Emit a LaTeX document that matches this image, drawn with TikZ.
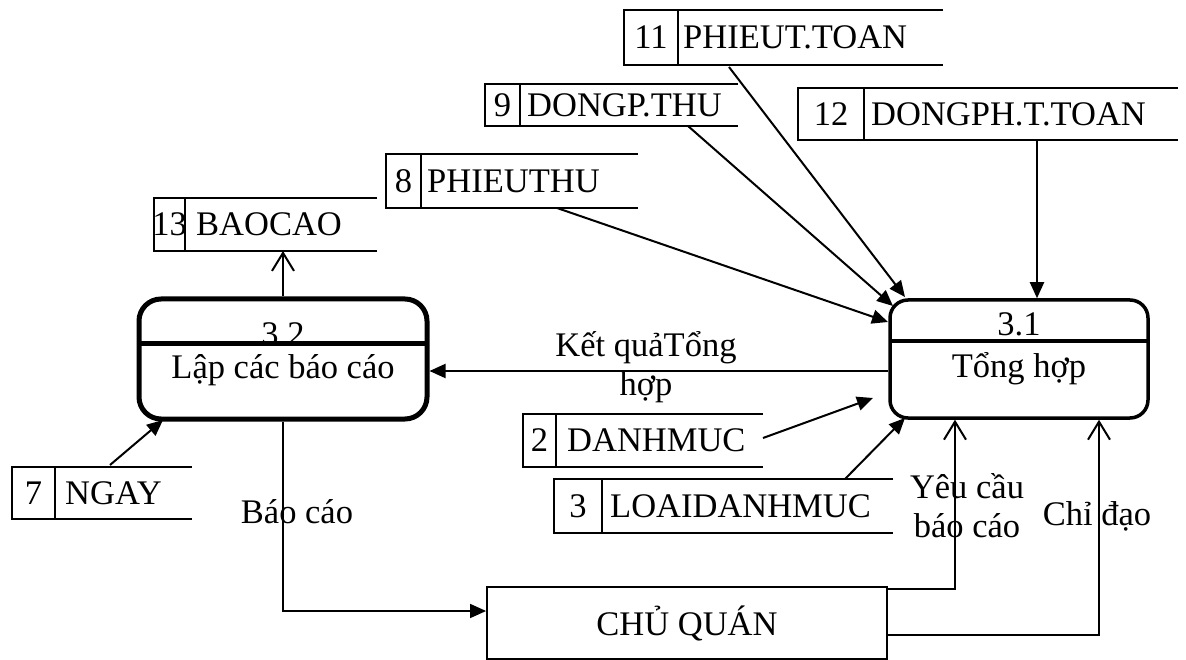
\documentclass[tikz,border=0pt]{standalone}
\usepackage{fontspec}
\setmainfont{Liberation Serif}
\usetikzlibrary{arrows.meta,calc}

\tikzset{
  txt/.style={inner sep=0pt, font=\fontsize{34.5}{35}\selectfont},
  storeline/.style={line width=1.8pt},
  flow/.style={line width=2pt, -{Triangle[length=16pt,width=14pt]}},
  openflow/.style={line width=2pt, -{Straight Barb[length=18pt,width=22pt]}},
  proc/.style={draw, rounded corners=#1, inner sep=0pt},
}

% open-ended data store: name, left, top, divider, right, bottom, number, label x, label
\newcommand\dstore[9]{%
  \draw[storeline] (#5,#3) -- (#2,#3) -- (#2,#6) -- (#5,#6) (#4,#3) -- (#4,#6);
  \node[txt] (#1-no) at ({(#2+#4)/2},{(#3+#6)/2}) {#7};
  \node[txt,anchor=west] (#1) at (#8,{(#3+#6)/2}) {#9};
}

\begin{document}
\begin{tikzpicture}[x=1pt,y=-1pt]
\fill[white] (0,0) rectangle (1186,660);
\useasboundingbox (0,0) rectangle (1186,660);

% data stores
\dstore{s11}{624}{10}{678}{943}{65}{11}{683}{PHIEUT.TOAN}
\dstore{s12}{798}{88}{864}{1178}{140}{12}{871}{DONGPH.T.TOAN}
\dstore{s9}{485}{84}{520}{738}{126}{9}{527}{DONGP.THU}
\dstore{s8}{386}{154}{421}{638}{208}{8}{427}{PHIEUTHU}
\dstore{s13}{154}{198}{185}{377}{251}{13}{196}{BAOCAO}
\dstore{s7}{12}{467}{55}{192}{519}{7}{65}{NGAY}
\dstore{s2}{523}{414}{556}{763}{467}{2}{567}{DANHMUC}
\dstore{s3}{554}{479}{602}{893}{533}{3}{610}{LOAIDANHMUC}

% processes
\node[proc=22pt, line width=5pt, minimum width=288pt, minimum height=120pt] (p32) at (283,359) {};
\node[txt, anchor=base] (p32-id) at (283,345) {3.2};
\draw[line width=5pt] (139,343) -- (427,343);
\node[txt, anchor=base] (p32-name) at (283,378) {Lập các báo cáo};

\node[proc=18pt, line width=3.5pt, minimum width=258pt, minimum height=118pt] (p31) at (1019,359) {};
\node[txt, anchor=base] (p31-id) at (1019,335) {3.1};
\draw[line width=3.5pt] (890,341) -- (1148,341);
\node[txt, anchor=base] (p31-name) at (1019,377) {Tổng hợp};

% external entity
\node[draw, line width=1.8pt, minimum width=400pt, minimum height=72pt, txt] (cq) at (687,623) {CHỦ QUÁN};

% connector end points
\coordinate (s13-in) at (283,251);
\coordinate (s7-out) at (110,465);
\coordinate (p32-in7) at (163,420);
\coordinate (s11-out) at (729,67);
\coordinate (p31-in11) at (905,297);
\coordinate (s9-out) at (688,126);
\coordinate (p31-in9) at (893,306);
\coordinate (s8-out) at (557,208);
\coordinate (p31-in8) at (888,322);
\coordinate (s12-out) at (1037,140);
\coordinate (s2-out) at (763,438);
\coordinate (p31-in2) at (873,398);
\coordinate (s3-out) at (845,479);
\coordinate (p31-in3) at (905,418);
\coordinate (kq) at (0,371);
\coordinate (bc) at (283,611);
\coordinate (yc) at (955,589);
\coordinate (cd) at (1099,635);

% flows
\draw[openflow] (p32.north) -- (s13-in);
\draw[flow] (s7-out) -- (p32-in7);
\draw[flow] (s11-out) -- (p31-in11);
\draw[flow] (s9-out) -- (p31-in9);
\draw[flow] (s8-out) -- (p31-in8);
\draw[flow] (s12-out) -- (s12-out |- p31.north);
\draw[flow] (s2-out) -- (p31-in2);
\draw[flow] (s3-out) -- (p31-in3);
\draw[flow] (p31.west |- kq) -- (p32.east |- kq);
\draw[flow, line width=1.5pt] (p32.south) |- (cq.west |- bc);
\draw[openflow] (cq.east |- yc) -| (p31.south -| yc);
\draw[openflow] (cq.east |- cd) -| (p31.south -| cd);

% flow labels
\node[txt, align=center, font=\fontsize{34.5}{39}\selectfont] (kq-label) at (646,367) {Kết quảTổng\\hợp};
\node[txt] (bc-label) at (297,512) {Báo cáo};
\node[txt, align=center, font=\fontsize{34.5}{39}\selectfont] (yc-label) at (967,506) {Yêu cầu\\báo cáo};
\node[txt, anchor=base] (cd-label) at (1097,525) {Chỉ đạo};
\end{tikzpicture}
\end{document}
